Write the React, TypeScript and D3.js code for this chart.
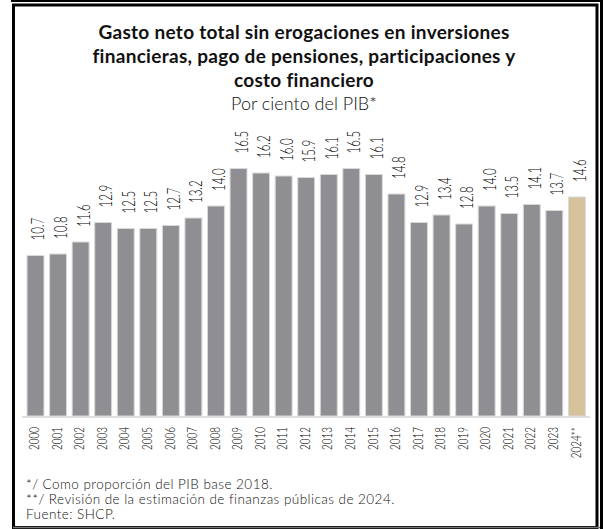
import { scaleBand, scaleLinear } from 'd3'

const years = [
	'2000', '2001', '2002', '2003', '2004', '2005', '2006', '2007', '2008', '2009',
	'2010', '2011', '2012', '2013', '2014', '2015', '2016', '2017', '2018', '2019',
	'2020', '2021', '2022', '2023', '2024**',
]
const values = [
	10.7, 10.8, 11.6, 12.9, 12.5, 12.5, 12.7, 13.2, 14.0, 16.5,
	16.2, 16.0, 15.9, 16.1, 16.5, 16.1, 14.8, 12.9, 13.4, 12.8,
	14.0, 13.5, 14.1, 13.7, 14.6,
]
const estimateYear = '2024**'

const titleLines = [
	'Gasto neto total sin erogaciones en inversiones',
	'financieras, pago de pensiones, participaciones y',
	'costo financiero',
]
const subtitle = 'Por ciento del PIB*'
const notes = [
	'*/ Como proporción del PIB base 2018.',
	'**/ Revisión de la estimación de finanzas públicas de 2024.',
	'Fuente: SHCP.',
]

export default function App() {
	const width = 603
	const height = 529
	const baseline = 416
	const font = 'Lato, "Noto Sans", sans-serif'

	const x = scaleBand<string>().domain(years).range([21.4, 591]).paddingInner(0.25).paddingOuter(0.25)
	const y = scaleLinear().domain([0, 18]).range([baseline, baseline - 270])

	return (
		<div style={{ position: 'absolute', left: 0, top: 0 }}>
			<svg width={width} height={height} viewBox={`0 0 ${width} ${height}`} style={{ display: 'block', background: '#fff' }}>
				{/* frame */}
				<rect x={11} y={0} width={592} height={2} fill="#000" />
				<rect x={600} y={0} width={3} height={height} fill="#000" />
				<rect x={13.5} y={5} width={583.5} height={522.5} fill="none" stroke="#000" strokeWidth={3} />
				<line x1={13} x2={600} y1={527.5} y2={527.5} stroke="#777" strokeWidth={1.5} />

				{titleLines.map((line, i) => (
					<text
						key={line}
						x={304}
						y={39 + i * 24}
						textAnchor="middle"
						fontFamily={font}
						fontWeight={700}
						fontSize={19}
						letterSpacing={0.3}
						fill="#111"
					>
						{line}
					</text>
				))}
				<text x={304} y={110} textAnchor="middle" fontFamily={font} fontWeight={300} fontSize={18} fill="#111">
					{subtitle}
				</text>

				<line x1={22} x2={590} y1={baseline + 1} y2={baseline + 1} stroke="#d6d6d6" strokeWidth={1.5} />

				{years.map((year, i) => {
					const bx = x(year) ?? 0
					const cx = bx + x.bandwidth() / 2
					const top = y(values[i])
					return (
						<g key={year}>
							<rect
								x={bx}
								y={top}
								width={x.bandwidth()}
								height={baseline - top}
								fill={year === estimateYear ? '#d5c29b' : '#8f8e93'}
								stroke="#d9d9d9"
								strokeWidth={1}
							/>
							<text
								transform={`translate(${cx + 2.5}, ${top - 15}) rotate(-90) scale(0.64, 1)`}
								dy="0.36em"
								fontFamily={font}
								fontWeight={300}
								fontSize={18}
								fill="#000"
							>
								{values[i].toFixed(1)}
							</text>
							<text
								transform={`translate(${cx - 1}, ${baseline + 11}) rotate(-90) scale(0.76, 1)`}
								dy="0.36em"
								textAnchor="end"
								fontFamily={font}
								fontWeight={300}
								fontSize={13}
								fill="#000"
							>
								{year}
							</text>
						</g>
					)
				})}

				{notes.map((note, i) => (
					<text
						key={note}
						x={26}
						y={489 + i * 15}
						fontFamily={font}
						fontWeight={300}
						fontSize={13.5}
						letterSpacing={0.45}
						fill="#111"
					>
						{note}
					</text>
				))}
			</svg>
		</div>
	)
}
